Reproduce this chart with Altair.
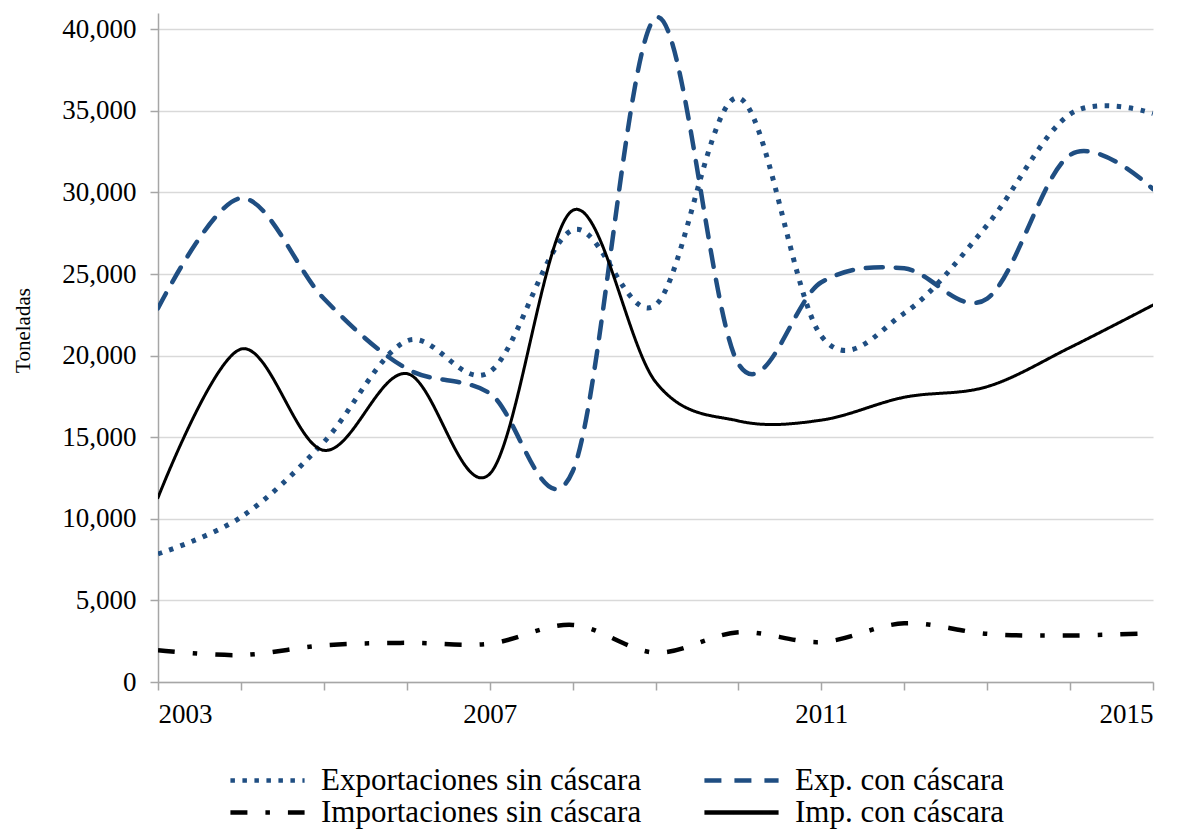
import altair as alt
import pandas as pd

years = list(range(2003, 2016))
series_names = [
    "Exportaciones sin cáscara",
    "Exp. con cáscara",
    "Importaciones sin cáscara",
    "Imp. con cáscara",
]
exp_sin = [7850, 10100, 14700, 20900, 19000, 27700, 23100, 35800, 21200, 22600, 28000, 34800, 34850]
exp_con = [22900, 29650, 23500, 19200, 17700, 12900, 40700, 19500, 24500, 25350, 23500, 32300, 30200]
imp_sin = [1950, 1650, 2250, 2400, 2350, 3500, 1800, 3050, 2450, 3600, 2950, 2850, 3000]
imp_con = [11300, 20400, 14200, 18900, 12750, 28900, 18400, 16000, 16050, 17450, 18100, 20500, 23100]

rows = []
for name, vals in zip(series_names, [exp_sin, exp_con, imp_sin, imp_con]):
    for y, v in zip(years, vals):
        rows.append({"Año": y, "Toneladas": v, "Serie": name})
df = pd.DataFrame(rows)

BLUE = "#1f4e82"
FONT = "Liberation Serif"

# style per series: colour, dash, width, cap, legend position (x, y)
colors = [BLUE, BLUE, "black", "black"]
dashes = [[4.5, 7.5], [17, 13], [17, 18, 4.5, 18], [1, 0]]
widths = [5, 4.5, 4.5, 3]
caps = ["butt", "round", "butt", "round"]
legend_pos = [(70, 728), (544, 728), (70, 760), (544, 760)]

x_enc = alt.X(
    "Año:Q",
    scale=alt.Scale(domain=[2003, 2015], nice=False, zero=False),
    axis=alt.Axis(
        title=None,
        values=years,
        format="d",
        labelExpr="datum.value % 4 == 3 ? datum.label : ''",
        grid=False,
        tickSize=8,
        labelPadding=11,
        labelFont=FONT,
        labelFontSize=27,
        labelColor="black",
    ),
)
y_enc = alt.Y(
    "Toneladas:Q",
    scale=alt.Scale(domain=[0, 41000], nice=False),
    axis=alt.Axis(
        title="Toneladas",
        values=list(range(0, 40001, 5000)),
        format=",d",
        grid=True,
        tickSize=8,
        labelPadding=14,
        labelFont=FONT,
        labelFontSize=27,
        labelColor="black",
        titleFont=FONT,
        titleFontSize=21,
        titleFontWeight="normal",
        titleColor="black",
        titleAngle=270,
        titleAlign="center",
        titleBaseline="middle",
        titleX=-135,
        titleY=317,
    ),
)

layers = []
for i, name in enumerate(series_names):
    lx, ly = legend_pos[i]
    leg = alt.Legend(
        title=None,
        orient="none",
        legendX=lx,
        legendY=ly,
        padding=0,
        symbolType="stroke",
        symbolSize=5500,
        symbolStrokeWidth=4.5,
        labelFont=FONT,
        labelFontSize=31,
        labelColor="black",
        labelOffset=14,
        labelLimit=0,
    )
    layer = (
        alt.Chart(df)
        .transform_filter(alt.datum.Serie == name)
        .mark_line(interpolate="cardinal", strokeCap=caps[i], clip=True, strokeWidth=widths[i])
        .encode(
            x=x_enc,
            y=y_enc,
            color=alt.Color(
                "Serie:N", scale=alt.Scale(domain=[name], range=[colors[i]]), legend=leg
            ),
            strokeDash=alt.StrokeDash(
                "Serie:N", scale=alt.Scale(domain=[name], range=[dashes[i]]), legend=leg
            ),
        )
    )
    layers.append(layer)

chart = (
    alt.layer(*layers)
    .resolve_scale(color="independent", strokeDash="independent")
    .properties(
        width=995,
        height=669,
        autosize=alt.AutoSizeParams(type="none"),
        padding={"left": 150, "top": 5, "right": 24, "bottom": 149},
    )
    .configure_view(stroke=None)
    .configure_axis(
        domainColor="#a6a6a6",
        domainWidth=1.5,
        tickColor="#a6a6a6",
        tickWidth=1.5,
        gridColor="#d9d9d9",
        gridWidth=1.5,
    )
)

chart.save("out.html", embed_options={"renderer": "svg", "actions": False})
